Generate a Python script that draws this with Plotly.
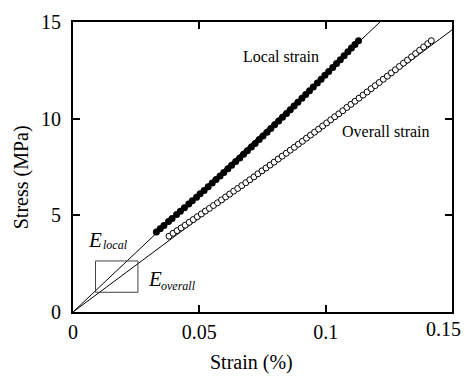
import plotly.graph_objects as go

# Local strain data (filled circles)
local_strain = [0.0330, 0.0345, 0.0360, 0.0378, 0.0392, 0.0410, 0.0425, 0.0441, 0.0458, 0.0472,
                0.0489, 0.0503, 0.0519, 0.0535, 0.0551, 0.0566, 0.0582, 0.0597, 0.0613, 0.0628,
                0.0644, 0.0660, 0.0675, 0.0690, 0.0706, 0.0721, 0.0737, 0.0752, 0.0768, 0.0783,
                0.0798, 0.0814, 0.0829, 0.0845, 0.0860, 0.0875, 0.0890, 0.0906, 0.0921, 0.0936,
                0.0951, 0.0967, 0.0982, 0.0997, 0.1012, 0.1028, 0.1043, 0.1058, 0.1073, 0.1088,
                0.1102, 0.1116, 0.1130]
local_stress = [4.14, 4.31, 4.47, 4.68, 4.83, 5.04, 5.21, 5.39, 5.59, 5.75,
                5.94, 6.11, 6.29, 6.48, 6.67, 6.85, 7.04, 7.21, 7.41, 7.59,
                7.78, 7.97, 8.16, 8.34, 8.53, 8.72, 8.92, 9.10, 9.30, 9.49,
                9.68, 9.88, 10.07, 10.27, 10.46, 10.66, 10.85, 11.05, 11.25, 11.44,
                11.64, 11.85, 12.04, 12.24, 12.44, 12.65, 12.85, 13.05, 13.26, 13.46,
                13.65, 13.84, 14.03]

# Overall strain data (open circles)
overall_strain = [0.0380, 0.0396, 0.0412, 0.0428, 0.0444, 0.0460, 0.0476, 0.0492, 0.0508, 0.0524,
                  0.0540, 0.0556, 0.0572, 0.0588, 0.0604, 0.0620, 0.0636, 0.0652, 0.0668, 0.0684,
                  0.0700, 0.0716, 0.0732, 0.0748, 0.0764, 0.0780, 0.0796, 0.0812, 0.0828, 0.0844,
                  0.0860, 0.0876, 0.0892, 0.0908, 0.0924, 0.0940, 0.0956, 0.0972, 0.0988, 0.1004,
                  0.1020, 0.1036, 0.1052, 0.1068, 0.1084, 0.1100, 0.1116, 0.1132, 0.1148, 0.1164,
                  0.1180, 0.1196, 0.1212, 0.1228, 0.1244, 0.1260, 0.1276, 0.1292, 0.1308, 0.1324,
                  0.1340, 0.1356, 0.1372, 0.1388, 0.1404, 0.1418]
overall_stress = [3.92, 4.07, 4.21, 4.35, 4.49, 4.64, 4.78, 4.93, 5.07, 5.22,
                  5.36, 5.51, 5.65, 5.80, 5.95, 6.10, 6.25, 6.39, 6.54, 6.69,
                  6.84, 6.99, 7.15, 7.30, 7.45, 7.60, 7.75, 7.91, 8.06, 8.21,
                  8.37, 8.52, 8.68, 8.83, 8.99, 9.15, 9.30, 9.46, 9.62, 9.78,
                  9.94, 10.10, 10.25, 10.41, 10.58, 10.74, 10.90, 11.06, 11.22, 11.38,
                  11.55, 11.71, 11.87, 12.04, 12.20, 12.37, 12.53, 12.70, 12.87, 13.03,
                  13.20, 13.37, 13.54, 13.71, 13.88, 14.03]

# Fitted modulus lines (E_local and E_overall)
local_fit_x = [0.0, 0.1215]
local_fit_y = [0.0, 15.0]
overall_fit_x = [0.0, 0.15]
overall_fit_y = [0.0, 14.59]

# Box marking the initial region
box_x = [0.0089, 0.0257]
box_y = [1.02, 2.64]

x_ticks = [0, 0.05, 0.1, 0.15]
x_tick_labels = ["0", "0.05", "0.1", "0.15"]
y_ticks = [0, 5, 10, 15]
y_tick_labels = ["0", "5", "10", "15"]

FONT = "Liberation Serif, Times New Roman, serif"

fig = go.Figure()
fig.add_trace(go.Scatter(x=local_fit_x, y=local_fit_y, mode="lines",
                         line=dict(color="black", width=1), showlegend=False, hoverinfo="skip"))
fig.add_trace(go.Scatter(x=overall_fit_x, y=overall_fit_y, mode="lines",
                         line=dict(color="black", width=1), showlegend=False, hoverinfo="skip"))
fig.add_trace(go.Scatter(x=local_strain, y=local_stress, mode="markers",
                         marker=dict(symbol="circle", size=7, color="black",
                                     line=dict(color="black", width=0)),
                         showlegend=False))
fig.add_trace(go.Scatter(x=overall_strain, y=overall_stress, mode="markers",
                         marker=dict(symbol="circle", size=6, color="white",
                                     line=dict(color="black", width=1)),
                         showlegend=False))

fig.add_shape(type="rect", xref="x", yref="y",
              x0=box_x[0], x1=box_x[1], y0=box_y[0], y1=box_y[1],
              line=dict(color="#444444", width=1))

L, R, T, B = 73, 454, 22, 312
def px(xp):
    return (xp - L) / (R - L)
def py(yp):
    return (B - yp) / (B - T)

for text, x, y in [("Local strain", 282.5, 56), ("Overall strain", 387.5, 131.5)]:
    fig.add_annotation(text=text, x=px(x), y=py(y), xref="paper", yref="paper",
                       showarrow=False, xanchor="center", yanchor="middle",
                       font=dict(family=FONT, size=16, color="black"))

# E labels
fig.add_annotation(text="<i>E</i>", x=px(86), y=py(240), xref="paper", yref="paper",
                   showarrow=False, xanchor="left", yanchor="middle",
                   font=dict(family=FONT, size=21, color="black"))
fig.add_annotation(text="<i>local</i>", x=px(101), y=py(245), xref="paper", yref="paper",
                   showarrow=False, xanchor="left", yanchor="middle",
                   font=dict(family=FONT, size=12, color="black"))
fig.add_annotation(text="<i>E</i>", x=px(146), y=py(278.5), xref="paper", yref="paper",
                   showarrow=False, xanchor="left", yanchor="middle",
                   font=dict(family=FONT, size=21, color="black"))
fig.add_annotation(text="<i>overall</i>", x=px(159), y=py(286), xref="paper", yref="paper",
                   showarrow=False, xanchor="left", yanchor="middle",
                   font=dict(family=FONT, size=12, color="black"))

# Last x tick label sits at the window edge: place it so it stays visible
fig.add_annotation(text=x_tick_labels[-1], x=x_ticks[-1], xref="x", y=0, yref="y",
                   xshift=-9, yshift=-17, showarrow=False, xanchor="center", yanchor="middle",
                   font=dict(family=FONT, size=20, color="black"))

# Axis titles
fig.add_annotation(text="Strain (%)", x=px(252.5), y=py(362), xref="paper", yref="paper",
                   showarrow=False, xanchor="center", yanchor="middle",
                   font=dict(family=FONT, size=20, color="black"))
fig.add_annotation(text="Stress (MPa)", x=px(21), y=py(177), xref="paper", yref="paper",
                   showarrow=False, xanchor="center", yanchor="middle", textangle=-90,
                   font=dict(family=FONT, size=20, color="black"))

axis_common = dict(showline=True, linecolor="black", linewidth=2, mirror="ticks",
                   ticks="inside", ticklen=7, tickwidth=2, tickcolor="black",
                   showgrid=False, zeroline=False,
                   tickfont=dict(family=FONT, size=20, color="black"))

fig.update_layout(
    width=465, height=376,
    margin=dict(l=L, r=465 - R, t=T, b=376 - B),
    paper_bgcolor="white", plot_bgcolor="white",
    font=dict(family=FONT, color="black"),
    xaxis=dict(range=[0, 0.15], tickvals=x_ticks[:-1] + [x_ticks[-1]],
               ticktext=x_tick_labels[:-1] + [""],
               ticklabelstandoff=1, **axis_common),
    yaxis=dict(range=[0, 15], tickvals=y_ticks, ticktext=y_tick_labels,
               ticklabelstandoff=6, **axis_common),
)

fig.write_html("out.html")
